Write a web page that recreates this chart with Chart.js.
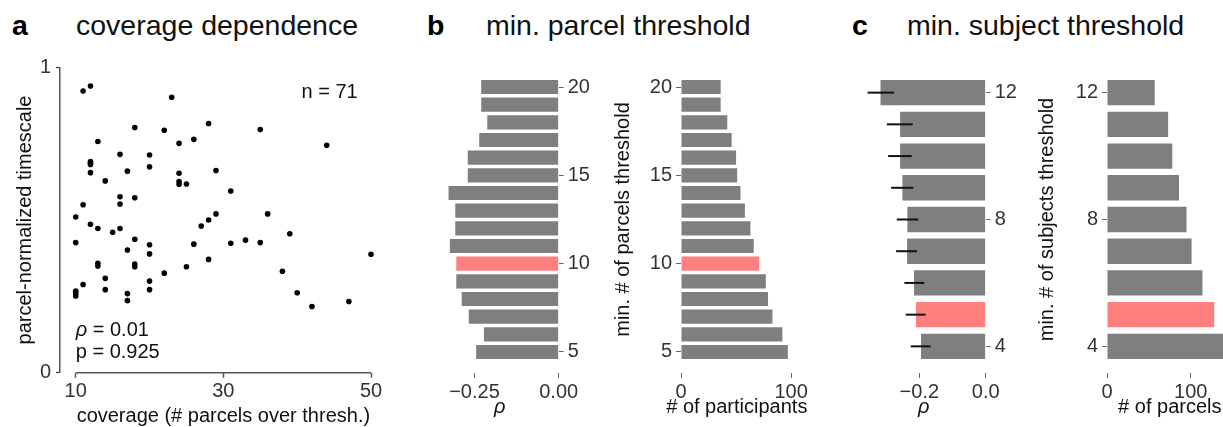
<!DOCTYPE html>
<html>
<head>
<meta charset="utf-8">
<script src="https://cdn.jsdelivr.net/npm/chart.js@4.4.1/dist/chart.umd.min.js"></script>
<style>
  html, body { margin: 0; padding: 0; background: #fff; }
  body { width: 1223px; height: 427px; overflow: hidden; position: relative; font-family: "Liberation Sans", Arial, sans-serif; }
  canvas { position: absolute; }
  .head { position: absolute; top: 11px; font-size: 28.5px; line-height: 28px; color: #111; white-space: nowrap; }
  .head.tag { font-weight: bold; color: #000; }
</style>
</head>
<body>
<div class="head tag" style="left:12px">a</div>
<div class="head" style="left:76px">coverage dependence</div>
<div class="head tag" style="left:427px">b</div>
<div class="head" style="left:486px">min. parcel threshold</div>
<div class="head tag" style="left:852px">c</div>
<div class="head" style="left:907px">min. subject threshold</div>

<canvas id="coverage" width="390" height="377" style="left:0;top:50px"></canvas>
<canvas id="parcelRho" width="190" height="377" style="left:420px;top:50px"></canvas>
<canvas id="parcelN" width="200" height="377" style="left:610px;top:50px"></canvas>
<canvas id="subjRho" width="200" height="377" style="left:840px;top:50px"></canvas>
<canvas id="subjN" width="210" height="377" style="left:1030px;top:50px"></canvas>

<script>
// panel a: coverage vs parcel-normalized timescale
const coverage = [11, 12, 23, 28, 18, 22, 35, 13, 24, 26, 44, 16, 20, 12, 12, 12, 20, 17, 29, 14,
  24, 24, 24, 25, 31, 16, 16, 18, 11, 10, 29, 36, 28, 27, 12, 13, 16, 15, 39, 18,
  10, 20, 26, 31, 33, 35, 17, 20, 50, 13, 13, 18, 18, 28, 25, 22, 38, 14, 20, 11,
  14, 20, 10, 10, 10, 17, 17, 40, 42, 47, 12];
const timescale = [0.922, 0.939, 0.902, 0.816, 0.803, 0.794, 0.796, 0.757, 0.751, 0.764, 0.745, 0.715, 0.713, 0.691, 0.682, 0.655, 0.674, 0.660, 0.662, 0.628,
  0.653, 0.626, 0.617, 0.618, 0.595, 0.576, 0.552, 0.573, 0.550, 0.510, 0.520, 0.520, 0.500, 0.480, 0.486, 0.472, 0.472, 0.460, 0.455, 0.437,
  0.426, 0.419, 0.421, 0.424, 0.434, 0.426, 0.402, 0.389, 0.388, 0.358, 0.349, 0.356, 0.347, 0.371, 0.347, 0.326, 0.332, 0.309, 0.300, 0.289,
  0.272, 0.272, 0.267, 0.259, 0.251, 0.259, 0.236, 0.262, 0.217, 0.233, 0.686];
const coverageTicks = [10, 30, 50];
const timescaleTicks = [0, 1];

// panel b: min. parcel threshold
const parcelThresh = [5, 6, 7, 8, 9, 10, 11, 12, 13, 14, 15, 16, 17, 18, 19, 20];
const parcelRho = [-0.245, -0.222, -0.267, -0.288, -0.304, -0.304, -0.323, -0.307, -0.307, -0.327, -0.270, -0.270, -0.236, -0.212, -0.230, -0.230];
const parcelParticipants = [97, 92, 83, 79, 77, 71, 66, 63, 58, 54, 51, 50, 46, 42, 36, 36];
const parcelChosen = 10;
const parcelTicks = [5, 10, 15, 20];

// panel c: min. subject threshold
const subjThresh = [4, 5, 6, 7, 8, 9, 10, 11, 12];
const subjRho = [-0.195, -0.210, -0.216, -0.237, -0.236, -0.251, -0.258, -0.258, -0.317];
const subjRhoLo = [-0.226, -0.241, -0.245, -0.270, -0.268, -0.285, -0.294, -0.298, -0.356];
const subjRhoHi = [-0.166, -0.181, -0.185, -0.207, -0.203, -0.218, -0.223, -0.220, -0.276];
const subjParcels = [143, 128, 114, 101, 95, 86, 78, 73, 57];
const subjChosen = 5;
const subjTicks = [4, 8, 12];

const GRAY = '#7f7f7f';
const RED = '#ff7f7f';
const AXIS = '#555';
const TICK = '#666';
const FONT = '"Liberation Sans", Arial, sans-serif';

Chart.defaults.font.family = FONT;
Chart.defaults.font.size = 20;
Chart.defaults.color = '#333';
Chart.defaults.animation = false;
Chart.defaults.responsive = false;
Chart.defaults.plugins.legend.display = false;
Chart.defaults.plugins.tooltip.enabled = false;

const fixTicks = values => scale => { scale.ticks = values.map(v => ({ value: v })); };
const fixWidth = w => scale => { scale.width = w; };
const fixHeight = h => scale => { scale.height = h; };
const minus = d => v => (v < 0 ? '\u2212' : '') + Math.abs(v).toFixed(d);

// x-axis title drawn centred under the plot area, without squeezing to its width
function drawXTitle(chart, text, italic, y) {
  const { ctx, chartArea } = chart;
  ctx.save();
  ctx.fillStyle = '#111';
  ctx.font = (italic ? 'italic ' : '') + '20px ' + FONT;
  ctx.textAlign = 'center';
  ctx.textBaseline = 'middle';
  ctx.fillText(text, (chartArea.left + chartArea.right) / 2, y);
  ctx.restore();
}

// offset x axis line, x title and stats text for the scatter panel
const scatterDecor = {
  id: 'scatterDecor',
  afterDraw(chart) {
    const { ctx, chartArea, scales: { x, y } } = chart;
    const x0 = x.getPixelForValue(coverageTicks[0]);
    const x1 = x.getPixelForValue(coverageTicks[coverageTicks.length - 1]);
    ctx.save();
    ctx.strokeStyle = AXIS;
    ctx.lineWidth = 1.5;
    ctx.beginPath();
    ctx.moveTo(x0, chartArea.bottom);
    ctx.lineTo(x1, chartArea.bottom);
    ctx.stroke();

    ctx.fillStyle = '#111';
    ctx.font = '20px ' + FONT;
    ctx.textBaseline = 'middle';
    ctx.textAlign = 'center';
    ctx.fillText('coverage (# parcels over thresh.)', (x0 + x1) / 2, 366);

    ctx.textAlign = 'right';
    ctx.fillText('n = 71', x.getPixelForValue(48.2), y.getPixelForValue(0.916));

    ctx.textAlign = 'left';
    const lx = x.getPixelForValue(10);
    ctx.font = 'italic 20px ' + FONT;
    ctx.fillText('\u03C1', lx, y.getPixelForValue(0.139));
    const w = ctx.measureText('\u03C1').width;
    ctx.font = '20px ' + FONT;
    ctx.fillText(' = 0.01', lx + w, y.getPixelForValue(0.139));
    ctx.fillText('p = 0.925', lx, y.getPixelForValue(0.067));
    ctx.restore();
  }
};

new Chart(document.getElementById('coverage'), {
  type: 'scatter',
  data: {
    datasets: [{
      data: coverage.map((c, i) => ({ x: c, y: timescale[i] })),
      backgroundColor: '#000',
      borderWidth: 0,
      pointRadius: 2.8,
      clip: false
    }]
  },
  options: {
    layout: { padding: { top: 17.3, right: 19, left: 0, bottom: 0 } },
    scales: {
      x: {
        type: 'linear', min: 7.87, max: 50,
        afterBuildTicks: fixTicks(coverageTicks),
        afterFit: fixHeight(54.3),
        ticks: { padding: 2 },
        grid: { drawOnChartArea: false, tickLength: 5, color: AXIS, tickColor: AXIS, tickWidth: 1.5 },
        border: { display: false }
      },
      y: {
        type: 'linear', min: 0, max: 1,
        afterBuildTicks: fixTicks(timescaleTicks),
        afterFit: fixWidth(60),
        ticks: { padding: 5 },
        grid: { drawOnChartArea: false, tickLength: 4, color: AXIS, tickColor: AXIS, tickWidth: 1.5 },
        border: { display: true, color: AXIS, width: 1.5 },
        title: { display: true, text: 'parcel-normalized timescale', color: '#111', font: { size: 20 }, padding: { top: 13, bottom: 0 } }
      }
    }
  },
  plugins: [scatterDecor]
});

const errorBars = {
  id: 'errorBars',
  afterDatasetsDraw(chart) {
    const { ctx, scales: { x, y } } = chart;
    ctx.save();
    ctx.strokeStyle = '#111';
    ctx.lineWidth = 2;
    subjThresh.forEach((t, i) => {
      const py = y.getPixelForValue(t);
      ctx.beginPath();
      ctx.moveTo(x.getPixelForValue(subjRhoLo[i]), py);
      ctx.lineTo(x.getPixelForValue(subjRhoHi[i]), py);
      ctx.stroke();
    });
    ctx.restore();
  }
};

function barChart(id, o) {
  const titlePlugin = {
    id: 'xTitle',
    afterDraw(chart) { drawXTitle(chart, o.xTitle, o.xItalic, 357); }
  };
  return new Chart(document.getElementById(id), {
    type: 'bar',
    data: {
      datasets: [{
        data: o.cats.map((c, i) => ({ x: o.values[i], y: c })),
        backgroundColor: o.cats.map(c => c === o.chosen ? RED : GRAY),
        borderWidth: 0,
        categoryPercentage: 1,
        barPercentage: 0.8
      }]
    },
    options: {
      indexAxis: 'y',
      layout: { padding: { top: 12, left: o.padLeft || 0, right: o.padRight || 0, bottom: 0 } },
      scales: {
        x: {
          type: 'linear', min: o.xMin, max: o.xMax,
          afterBuildTicks: fixTicks(o.xTicks),
          afterFit: fixHeight(54),
          ticks: { padding: 2, callback: o.fmt },
          grid: { drawOnChartArea: false, tickLength: 5, color: TICK, tickColor: TICK },
          border: { display: false }
        },
        y: {
          type: 'linear', position: o.yPos, min: o.yMin, max: o.yMax,
          offset: false,
          afterBuildTicks: fixTicks(o.yTicks),
          afterFit: fixWidth(o.yWidth),
          ticks: { padding: 4 },
          grid: { offset: false, drawOnChartArea: false, tickLength: 5, color: TICK, tickColor: TICK },
          border: { display: false },
          title: o.yTitle
            ? { display: true, text: o.yTitle, color: '#111', font: { size: 20 }, padding: { top: o.yTitlePad, bottom: 0 } }
            : { display: false }
        }
      }
    },
    plugins: [titlePlugin].concat(o.plugins || [])
  });
}

barChart('parcelRho', {
  cats: parcelThresh, values: parcelRho, chosen: parcelChosen,
  xMin: -0.35, xMax: 0, xTicks: [-0.25, 0], fmt: minus(2), xTitle: '\u03C1', xItalic: true,
  yPos: 'right', yMin: 3.81, yMax: 21.19, yTicks: parcelTicks, yWidth: 51.3, padLeft: 20.8
});

barChart('parcelN', {
  cats: parcelThresh, values: parcelParticipants, chosen: parcelChosen,
  xMin: 0, xMax: 101.3, xTicks: [0, 100], xTitle: '# of participants',
  yPos: 'left', yMin: 3.81, yMax: 21.19, yTicks: parcelTicks, yWidth: 71, padRight: 12.5,
  yTitle: 'min. # of parcels threshold', yTitlePad: 1
});

barChart('subjRho', {
  cats: subjThresh, values: subjRho, chosen: subjChosen,
  xMin: -0.374, xMax: 0, xTicks: [-0.2, 0], fmt: minus(1), xTitle: '\u03C1', xItalic: true,
  yPos: 'right', yMin: 3.16, yMax: 12.84, yTicks: subjTicks, yWidth: 54.3, padLeft: 21.6,
  plugins: [errorBars]
});

barChart('subjN', {
  cats: subjThresh, values: subjParcels, chosen: subjChosen,
  xMin: 0, xMax: 150, xTicks: [0, 100], xTitle: '# of parcels',
  yPos: 'left', yMin: 3.16, yMax: 12.84, yTicks: subjTicks, yWidth: 77, padRight: 7.4,
  yTitle: 'min. # of subjects threshold', yTitlePad: 5
});
</script>
</body>
</html>
